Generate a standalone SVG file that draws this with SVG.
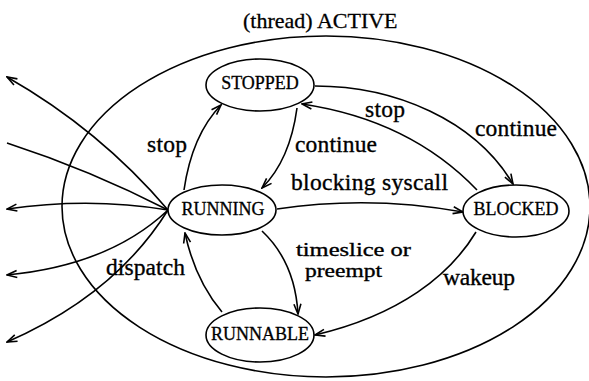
<svg xmlns="http://www.w3.org/2000/svg" width="589" height="381" viewBox="0 0 589 381">
<style>
.n{fill:#fff;stroke:#000;stroke-width:1.6}
.e{fill:none;stroke:#000;stroke-width:1.6}
.nl{font-family:"Liberation Serif","Times New Roman",serif;font-size:18px;fill:#000;stroke:#000;stroke-width:0.3;text-anchor:middle}
.el{font-family:"Liberation Serif","Times New Roman",serif;font-size:23.5px;fill:#000;stroke:#000;stroke-width:0.35}
.sm{font-size:19px}
.t{font-family:"Liberation Serif","Times New Roman",serif;font-size:22px;fill:#000;stroke:#000;stroke-width:0.3}
</style>
<defs>
<marker id="a" viewBox="-11 -5 12 10" markerWidth="12" markerHeight="10" refX="0" refY="0" orient="auto" markerUnits="userSpaceOnUse">
<path d="M-10,-3.5 L0,0 L-10,3.5" fill="none" stroke="#000" stroke-width="1.6"/>
</marker>
</defs>
<rect width="589" height="381" fill="#fff"/>
<g id="active">
<ellipse class="e" cx="326" cy="206.5" rx="264" ry="170.5"/>
<text class="t" x="243" y="28">(thread) ACTIVE</text>
</g>
<g id="connectors">
<path class="e" marker-end="url(#a)" d="M184,190 Q192,135 221,105"/>
<path class="e" marker-end="url(#a)" d="M297,108 Q290,160 262,188"/>
<path class="e" marker-end="url(#a)" d="M315,86 C395,86 475,120 513,184"/>
<path class="e" marker-end="url(#a)" d="M477,190 Q410,120 302,104"/>
<path class="e" marker-end="url(#a)" d="M277,209 Q370,195 463,212"/>
<path class="e" marker-end="url(#a)" d="M262,231 Q295,262 298,314"/>
<path class="e" marker-end="url(#a)" d="M222,312 Q195,280 185,233"/>
<path class="e" marker-end="url(#a)" d="M476,232 C450,275 400,315 315,335"/>
<path class="e" marker-end="url(#a)" d="M168,210 Q100,130 7,77"/>
<path class="e" d="M7,143 Q90,170 168,210"/>
<path class="e" marker-end="url(#a)" d="M168,210 Q90,197 7,209"/>
<path class="e" marker-end="url(#a)" d="M168,210 Q110,265 7,275"/>
<path class="e" marker-end="url(#a)" d="M168,210 Q115,295 7,342"/>
<text class="el" x="147" y="152" textLength="40">stop</text>
<text class="el" x="295" y="152" textLength="82">continue</text>
<text class="el" x="365" y="117" textLength="40">stop</text>
<text class="el" x="475" y="136" textLength="82">continue</text>
<text class="el" x="291" y="190" textLength="157">blocking syscall</text>
<text class="el sm"><tspan x="296" y="256" textLength="115" lengthAdjust="spacingAndGlyphs">timeslice or</tspan><tspan x="305" y="277" textLength="77" lengthAdjust="spacingAndGlyphs">preempt</tspan></text>
<text class="el" x="443" y="285" textLength="72">wakeup</text>
<text class="el" x="106" y="275" textLength="79">dispatch</text>
</g>
<g id="stopped">
<ellipse class="n" cx="260" cy="85" rx="54" ry="26"/>
<text class="nl" x="260" y="89">STOPPED</text>
</g>
<g id="running">
<ellipse class="n" cx="222" cy="210" rx="54" ry="25"/>
<text class="nl" x="223" y="215">RUNNING</text>
</g>
<g id="blocked">
<ellipse class="n" cx="516" cy="211" rx="53" ry="26"/>
<text class="nl" x="516" y="215">BLOCKED</text>
</g>
<g id="runnable">
<ellipse class="n" cx="260" cy="335" rx="54" ry="27"/>
<text class="nl" x="260" y="340">RUNNABLE</text>
</g>
</svg>
